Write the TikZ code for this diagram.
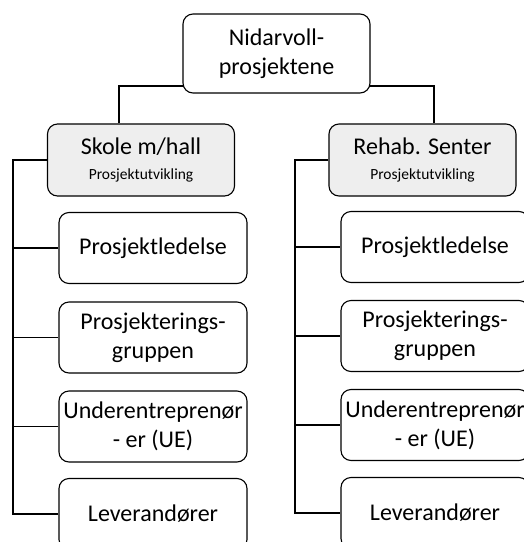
\documentclass[tikz,border=0pt]{standalone}
\usepackage{fontspec}
\setmainfont{Carlito}
\usetikzlibrary{backgrounds}
\begin{document}
\begin{tikzpicture}[x=1pt,y=-1pt,
  box/.style={draw=black,line width=1.1pt,rounded corners=10pt,fill=white,
    align=center,inner sep=0pt,font=\fontsize{24}{29}\selectfont},
  unit/.style={box,fill=gray!13,minimum width=187pt,minimum height=72pt},
  child/.style={box,minimum width=188pt,minimum height=71pt},
  link/.style={draw=black,line width=1.1pt}]
\useasboundingbox (0,0) rectangle (524,542);
\clip (0,0) rectangle (524,542);

% top of the hierarchy
\node[box,minimum width=187pt,minimum height=79pt] (top) at (276.5,53.5) {Nidarvoll-\\prosjektene};

% the two projects
\node[unit] (L) at (141,160) {Skole m/hall\\[-4pt]{\fontsize{15.5}{18}\selectfont Prosjektutvikling}};
\node[unit] (R) at (422.5,160) {Rehab. Senter\\[-4pt]{\fontsize{15.5}{18}\selectfont Prosjektutvikling}};

% groups under each project
\node[child] (l1) at (153,248) {Prosjektledelse};
\node[child] (l2) at (153,337.5) {Prosjekterings-\\gruppen};
\node[child] (l3) at (153,426.5) {Underentreprenør\\- er (UE)};
\node[child] (l4) at (153,514) {Leverandører};

\node[child] (r1) at (435,247) {Prosjektledelse};
\node[child] (r2) at (435,336) {Prosjekterings-\\gruppen};
\node[child] (r3) at (435,425) {Underentreprenør\\- er (UE)};
\node[child] (r4) at (435,513) {Leverandører};

\coordinate (hub) at (276,86);
\coordinate (lb) at (13,0);
\coordinate (rb) at (295,0);

\begin{scope}[on background layer]
  \draw[link] ([xshift=-22pt]L.north) |- (hub) -| ([xshift=11.5pt]R.north);
\end{scope}

% left bus
\draw[link] (L.west) -| (lb |- l4.west) -- (l4.west);
\foreach \c in {l1,l2,l3} \draw[link] (lb |- \c.west) -- (\c.west);
% right bus
\draw[link] (R.west) -| (rb |- r4.west) -- (r4.west);
\foreach \c in {r1,r2,r3} \draw[link] (rb |- \c.west) -- (\c.west);
\end{tikzpicture}
\end{document}
